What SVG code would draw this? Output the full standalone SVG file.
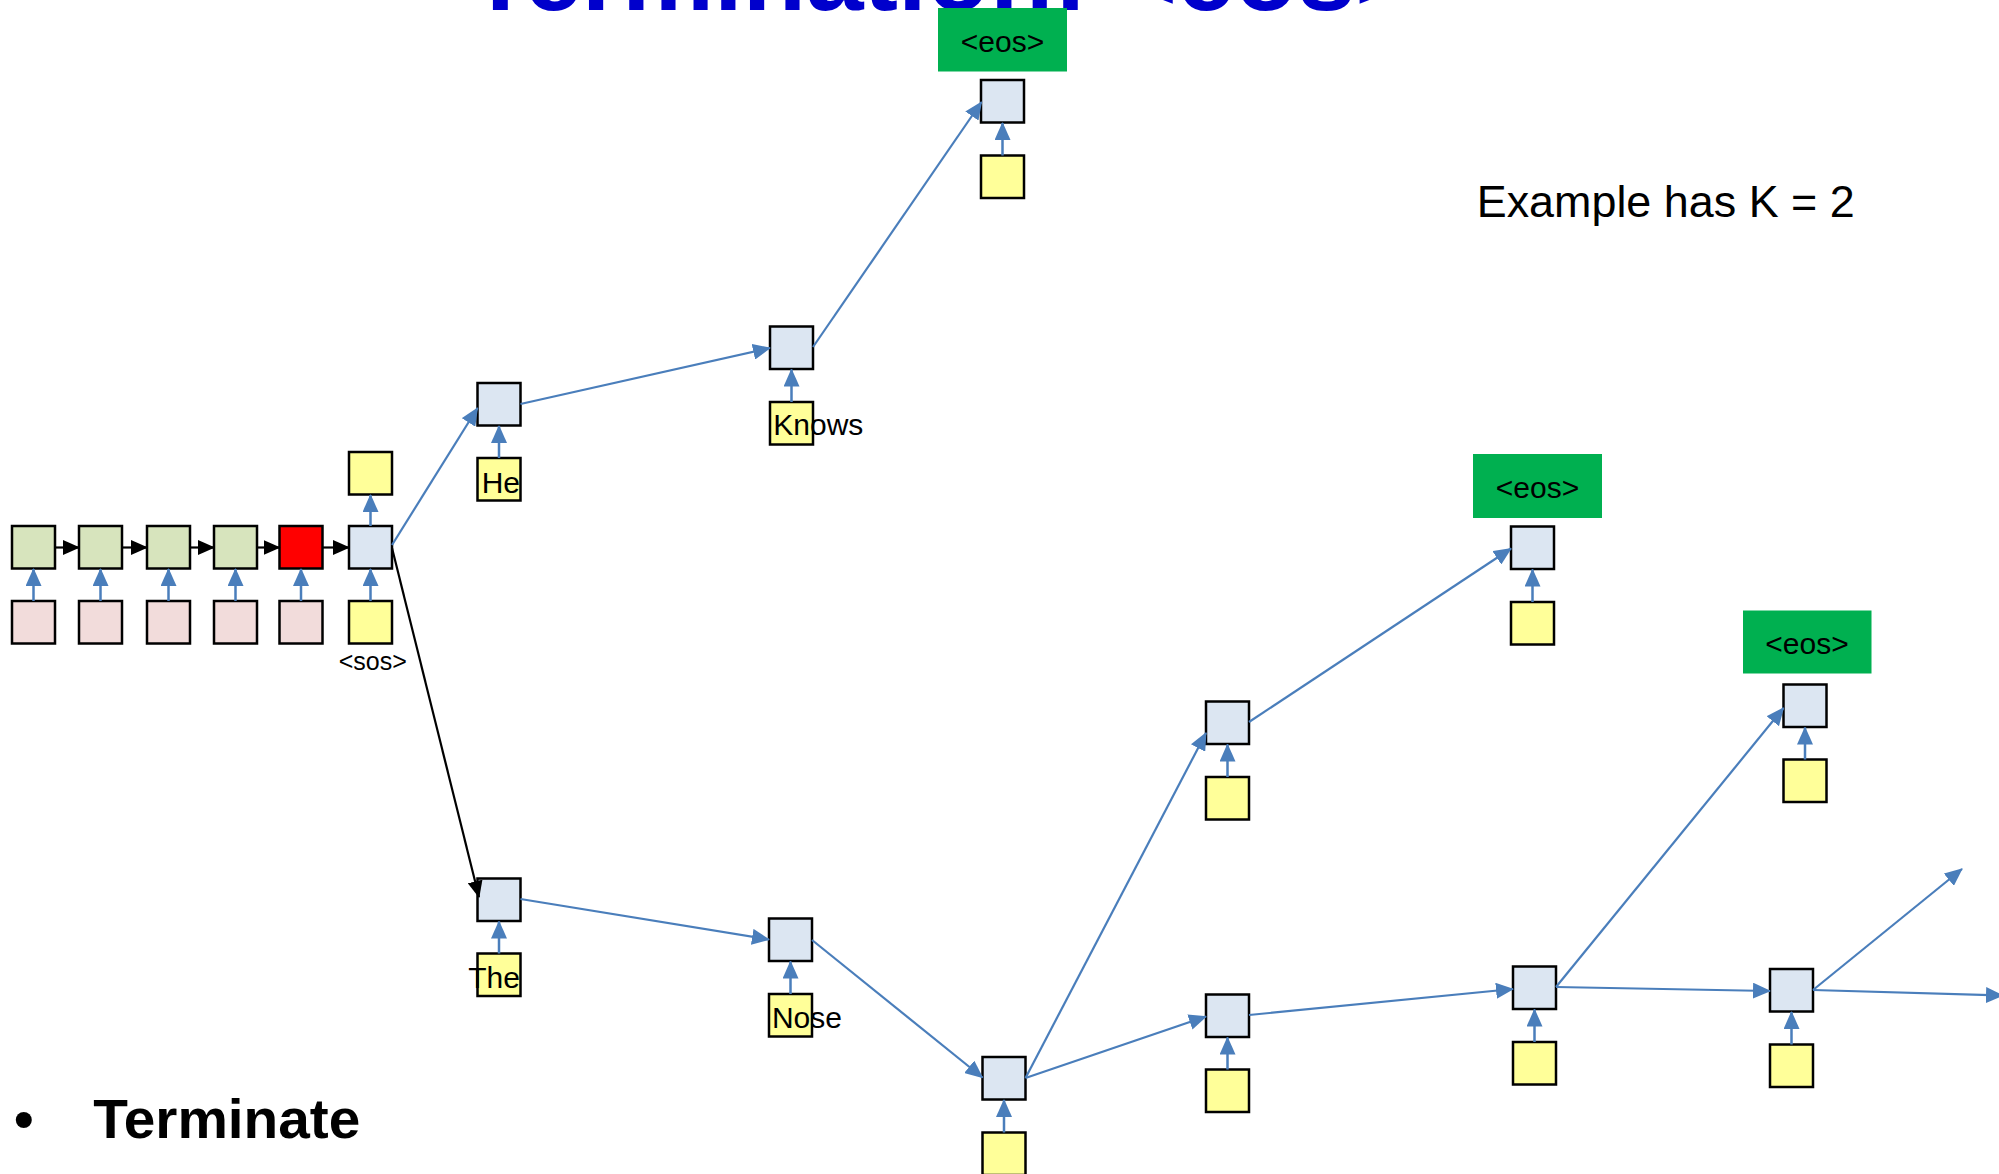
<svg xmlns="http://www.w3.org/2000/svg" width="1999" height="1174" viewBox="0 0 1999 1174">
<style>
.h{fill:#DCE6F2;stroke:#000;stroke-width:2.5}
.y{fill:#FFFF99;stroke:#000;stroke-width:2.5}
.p{fill:#F2DCDB;stroke:#000;stroke-width:2.5}
.g{fill:#D7E4BD;stroke:#000;stroke-width:2.5}
.r{fill:#FF0000;stroke:#000;stroke-width:2.5}
.eos{fill:#00B050}
.ba{stroke:#4A7EBB;stroke-width:2.5;fill:none;marker-end:url(#ab)}
.bl{stroke:#4A7EBB;stroke-width:2.2;fill:none;marker-end:url(#ab)}
.kl{stroke:#000;stroke-width:2.2;fill:none;marker-end:url(#ak)}
text{font-family:"Liberation Sans",Arial,sans-serif;fill:#000}
.w{font-size:30px}
.e{font-size:30px;text-anchor:middle}
</style>
<defs>
<marker id="ab" markerUnits="userSpaceOnUse" markerWidth="18" markerHeight="16" refX="17" refY="8" orient="auto" viewBox="0 0 18 16"><path d="M0,0 L18,8 L0,16 z" fill="#4A7EBB"/></marker>
<marker id="ak" markerUnits="userSpaceOnUse" markerWidth="17" markerHeight="15" refX="16" refY="7.5" orient="auto" viewBox="0 0 17 15"><path d="M0,0 L17,7.5 L0,15 z" fill="#000"/></marker>
</defs>

<text id="title" x="468.7" y="10" font-size="103" font-weight="bold" style="fill:#0000CC" textLength="947" lengthAdjust="spacingAndGlyphs">Termination: &lt;eos&gt;</text>

<text id="k-note" x="1476.7" y="216.7" font-size="45" textLength="378" lengthAdjust="spacingAndGlyphs">Example has K = 2</text>

<g id="bullet">
<text x="14" y="1138" font-size="56" font-weight="bold">•</text>
<text x="93.3" y="1138.3" font-size="56" font-weight="bold" textLength="267" lengthAdjust="spacingAndGlyphs">Terminate</text>
</g>

<g id="encoder">
<g id="enc1"><rect class="g" x="12" y="526" width="43" height="42.5"/><rect class="p" x="12" y="601" width="43" height="42.5"/><line class="ba" x1="33.5" y1="601" x2="33.5" y2="569"/></g>
<g id="enc2"><rect class="g" x="79" y="526" width="43" height="42.5"/><rect class="p" x="79" y="601" width="43" height="42.5"/><line class="ba" x1="100.5" y1="601" x2="100.5" y2="569"/></g>
<g id="enc3"><rect class="g" x="147" y="526" width="43" height="42.5"/><rect class="p" x="147" y="601" width="43" height="42.5"/><line class="ba" x1="168.5" y1="601" x2="168.5" y2="569"/></g>
<g id="enc4"><rect class="g" x="214" y="526" width="43" height="42.5"/><rect class="p" x="214" y="601" width="43" height="42.5"/><line class="ba" x1="235.5" y1="601" x2="235.5" y2="569"/></g>
<g id="enc5"><rect class="r" x="279.5" y="526" width="43" height="42.5"/><rect class="p" x="279.5" y="601" width="43" height="42.5"/><line class="ba" x1="301" y1="601" x2="301" y2="569"/></g>
</g>

<g id="sos">
<rect class="h" x="349" y="526" width="43" height="42.5"/>
<rect class="y" x="349" y="452" width="43" height="42.5"/>
<rect class="y" x="349" y="601" width="43" height="42.5"/>
<line class="ba" x1="370.5" y1="601" x2="370.5" y2="569"/>
<line class="ba" x1="370.5" y1="526" x2="370.5" y2="495"/>
<text x="372.8" y="670" font-size="25" text-anchor="middle">&lt;sos&gt;</text>
</g>

<g id="he"><rect class="h" x="477.5" y="383" width="43" height="42.5"/><rect class="y" x="477.5" y="458" width="43" height="42.5"/><line class="ba" x1="499" y1="458" x2="499" y2="426"/><text class="w" x="481.7" y="492.7">He</text></g>
<g id="knows"><rect class="h" x="770" y="326.5" width="43" height="42.5"/><rect class="y" x="770" y="402" width="43" height="42.5"/><line class="ba" x1="791.5" y1="402" x2="791.5" y2="369.5"/><text class="w" x="773.3" y="435">Knows</text></g>
<g id="eos1"><rect class="eos" x="938" y="8" width="129" height="63.5"/><text class="e" x="1002.5" y="52">&lt;eos&gt;</text><rect class="h" x="981" y="80" width="43" height="42.5"/><rect class="y" x="981" y="155.5" width="43" height="42.5"/><line class="ba" x1="1002.5" y1="155.5" x2="1002.5" y2="123"/></g>

<g id="the"><rect class="h" x="477.5" y="878.5" width="43" height="42.5"/><rect class="y" x="477.5" y="953.5" width="43" height="42.5"/><line class="ba" x1="499" y1="953.5" x2="499" y2="921.5"/><text class="w" x="468.2" y="987.7">The</text></g>
<g id="nose"><rect class="h" x="769" y="918.5" width="43" height="42.5"/><rect class="y" x="769" y="994" width="43" height="42.5"/><line class="ba" x1="790.5" y1="994" x2="790.5" y2="961.5"/><text class="w" x="771.9" y="1027.7">Nose</text></g>
<g id="n3"><rect class="h" x="982.5" y="1057" width="43" height="42.5"/><rect class="y" x="982.5" y="1132.5" width="43" height="42.5"/><line class="ba" x1="1004" y1="1132.5" x2="1004" y2="1100"/></g>
<g id="nA"><rect class="h" x="1206" y="701.5" width="43" height="42.5"/><rect class="y" x="1206" y="777" width="43" height="42.5"/><line class="ba" x1="1227.5" y1="777" x2="1227.5" y2="744.5"/></g>
<g id="eos2"><rect class="eos" x="1473" y="454" width="129" height="64"/><text class="e" x="1537.5" y="498.3">&lt;eos&gt;</text><rect class="h" x="1511" y="526.5" width="43" height="42.5"/><rect class="y" x="1511" y="602" width="43" height="42.5"/><line class="ba" x1="1532.5" y1="602" x2="1532.5" y2="569.5"/></g>
<g id="nB"><rect class="h" x="1206" y="994.5" width="43" height="42.5"/><rect class="y" x="1206" y="1069.5" width="43" height="42.5"/><line class="ba" x1="1227.5" y1="1069.5" x2="1227.5" y2="1037.5"/></g>
<g id="nC"><rect class="h" x="1513" y="966.5" width="43" height="42.5"/><rect class="y" x="1513" y="1042" width="43" height="42.5"/><line class="ba" x1="1534.5" y1="1042" x2="1534.5" y2="1009.5"/></g>
<g id="eos3"><rect class="eos" x="1743" y="610.5" width="128.5" height="63"/><text class="e" x="1807" y="653.5">&lt;eos&gt;</text><rect class="h" x="1783.5" y="684.5" width="43" height="42.5"/><rect class="y" x="1783.5" y="759.5" width="43" height="42.5"/><line class="ba" x1="1805" y1="759.5" x2="1805" y2="727.5"/></g>
<g id="nD"><rect class="h" x="1770" y="969" width="43" height="42.5"/><rect class="y" x="1770" y="1044.5" width="43" height="42.5"/><line class="ba" x1="1791.5" y1="1044.5" x2="1791.5" y2="1012"/></g>

<g id="connectors">
<line class="kl" x1="55" y1="547.5" x2="79" y2="547.5"/>
<line class="kl" x1="122" y1="547.5" x2="147" y2="547.5"/>
<line class="kl" x1="190" y1="547.5" x2="214" y2="547.5"/>
<line class="kl" x1="257" y1="547.5" x2="279.5" y2="547.5"/>
<line class="kl" x1="322.5" y1="547.5" x2="349" y2="547.5"/>
<line class="bl" x1="392" y1="545" x2="477.5" y2="408"/>
<line class="kl" x1="392" y1="548" x2="479" y2="897"/>
<line class="bl" x1="520.5" y1="404" x2="770" y2="348"/>
<line class="bl" x1="813" y1="347" x2="981.5" y2="102"/>
<line class="bl" x1="520.5" y1="899" x2="769" y2="939.5"/>
<line class="bl" x1="812" y1="940" x2="982.5" y2="1077.5"/>
<line class="bl" x1="1025.5" y1="1078" x2="1206" y2="733"/>
<line class="bl" x1="1025.5" y1="1078" x2="1206" y2="1016.5"/>
<line class="bl" x1="1249" y1="722" x2="1511" y2="548.5"/>
<line class="bl" x1="1249" y1="1015" x2="1513" y2="989"/>
<line class="bl" x1="1556" y1="987" x2="1783.5" y2="708"/>
<line class="bl" x1="1556" y1="987" x2="1770" y2="991"/>
<line class="bl" x1="1813" y1="990" x2="1962" y2="869"/>
<line class="bl" x1="1813" y1="990" x2="2003" y2="995.5"/>
</g>
</svg>
